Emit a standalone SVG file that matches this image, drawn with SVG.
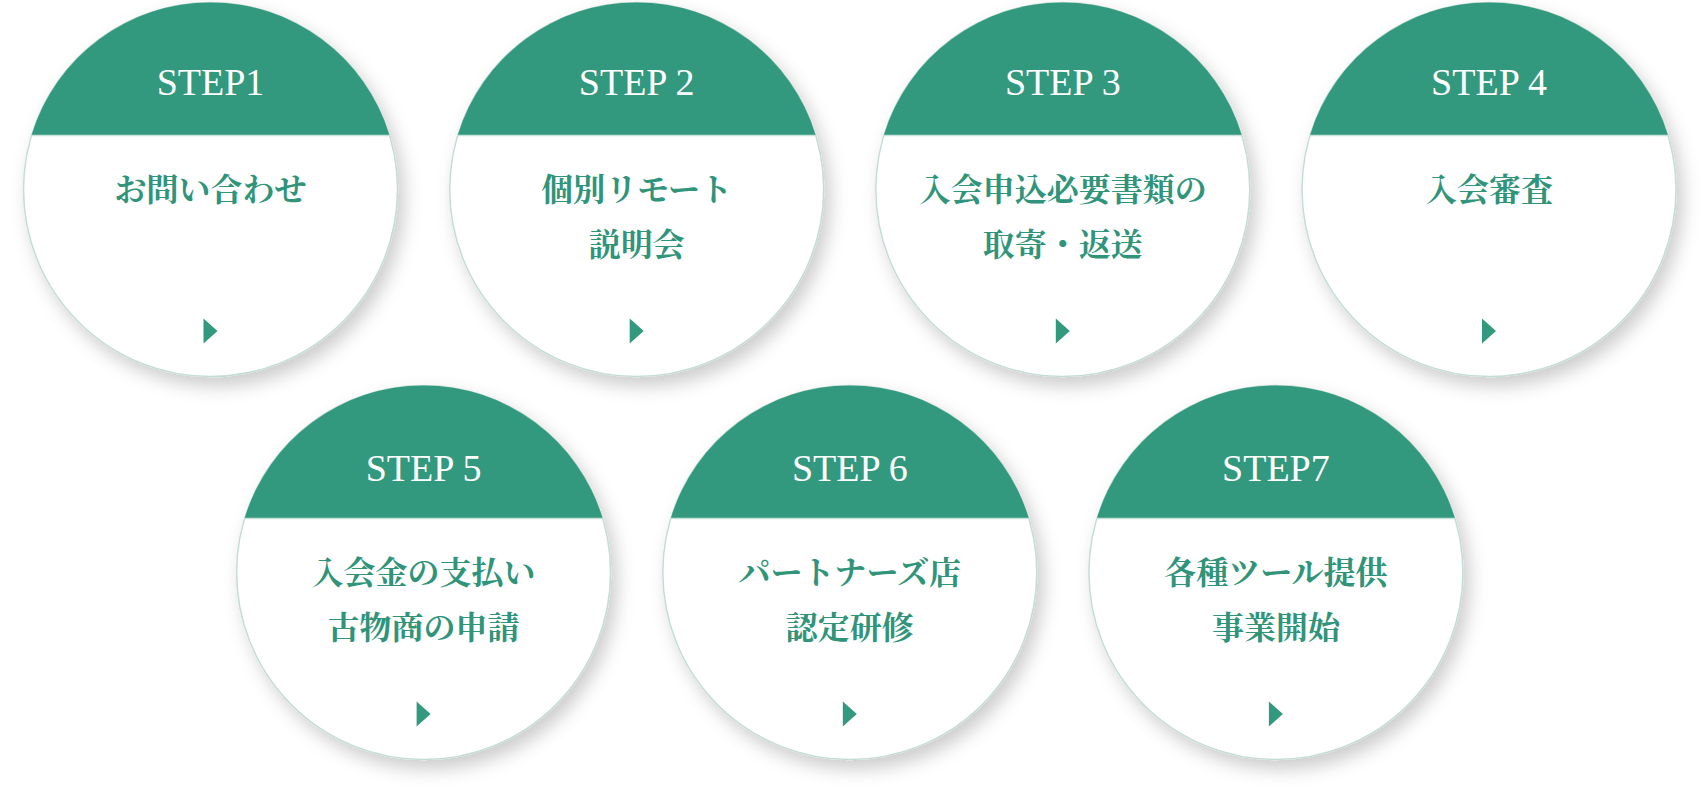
<svg xmlns="http://www.w3.org/2000/svg" xmlns:xlink="http://www.w3.org/1999/xlink" width="1704" height="790" viewBox="0 0 1704 790">
<style>
.disc{fill:#ffffff;stroke:#c4ddd4;stroke-width:1.5}
.band{fill:#32987e}
.bandline{stroke:#c8e3da;stroke-width:1.5}
.arrow{fill:#32987e}
.step{font-family:"Liberation Serif","Times New Roman",serif;font-size:38px;fill:#ffffff;text-anchor:middle}
.label{font-family:"Noto Serif CJK JP","Noto Sans CJK JP",sans-serif;font-size:32px;font-weight:700;fill:#2f947a;text-anchor:middle}
</style>
<defs>
<filter id="shadow" x="-20%" y="-20%" width="145%" height="150%">
<feDropShadow dx="6" dy="9" stdDeviation="9" flood-color="#000000" flood-opacity="0.2"/>
</filter>
<g id="base">
<circle class="disc" cx="0" cy="0" r="187" filter="url(#shadow)"/>
<path class="band" d="M -178.9 -54.5 A 187 187 0 0 1 178.9 -54.5 Z"/>
<line class="bandline" x1="-178.9" y1="-54" x2="178.9" y2="-54"/>
<path class="arrow" d="M -7 129 L 7 141.5 L -7 154 Z"/>
</g>
</defs>
<rect width="1704" height="790" fill="#ffffff"/>
<g id="connectors"/>
<g id="step1" transform="translate(210.5,189.5)">
<use xlink:href="#base" href="#base"/>
<text class="step" x="0" y="-95">STEP1</text>
<text class="label" x="0" y="11.5">お問い合わせ</text>
</g>
<g id="step2" transform="translate(636.7,189.5)">
<use xlink:href="#base" href="#base"/>
<text class="step" x="0" y="-95">STEP 2</text>
<text class="label" x="0" y="11.5">個別リモート</text>
<text class="label" x="0" y="66.5">説明会</text>
</g>
<g id="step3" transform="translate(1062.8,189.5)">
<use xlink:href="#base" href="#base"/>
<text class="step" x="0" y="-95">STEP 3</text>
<text class="label" x="0" y="11.5">入会申込必要書類の</text>
<text class="label" x="0" y="66.5">取寄・返送</text>
</g>
<g id="step4" transform="translate(1489,189.5)">
<use xlink:href="#base" href="#base"/>
<text class="step" x="0" y="-95">STEP 4</text>
<text class="label" x="0" y="11.5">入会審査</text>
</g>
<g id="step5" transform="translate(423.6,572.5)">
<use xlink:href="#base" href="#base"/>
<text class="step" x="0" y="-92">STEP 5</text>
<text class="label" x="0" y="11.5">入会金の支払い</text>
<text class="label" x="0" y="66.5">古物商の申請</text>
</g>
<g id="step6" transform="translate(849.8,572.5)">
<use xlink:href="#base" href="#base"/>
<text class="step" x="0" y="-92">STEP 6</text>
<text class="label" x="0" y="11.5">パートナーズ店</text>
<text class="label" x="0" y="66.5">認定研修</text>
</g>
<g id="step7" transform="translate(1275.9,572.5)">
<use xlink:href="#base" href="#base"/>
<text class="step" x="0" y="-92">STEP7</text>
<text class="label" x="0" y="11.5">各種ツール提供</text>
<text class="label" x="0" y="66.5">事業開始</text>
</g>
</svg>
